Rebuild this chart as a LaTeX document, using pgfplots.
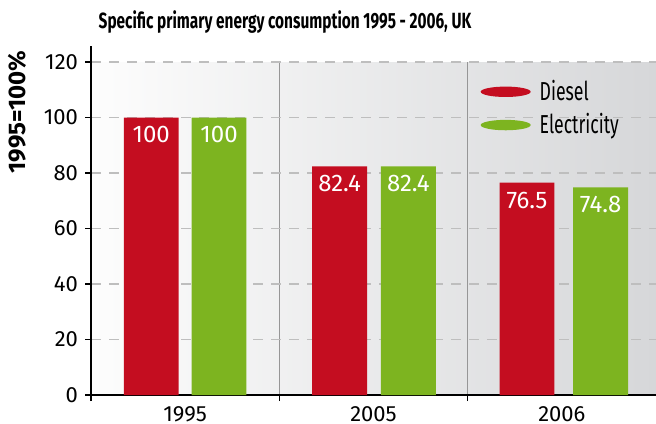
\documentclass[border=0pt]{standalone}
\usepackage{fontspec}
\setmainfont{Fira Sans}
\newfontfamily\condfont{Fira Sans}[FakeStretch=0.7]
\newfontfamily\legfont{Fira Sans}[FakeStretch=0.68]
\usepackage{pgfplots}
\pgfplotsset{compat=1.18}
\definecolor{dred}{RGB}{196,13,32}
\definecolor{egreen}{RGB}{125,180,32}
\definecolor{bgleft}{RGB}{253,253,253}
\definecolor{bgright}{RGB}{214,215,217}
\definecolor{gridgray}{RGB}{190,190,190}
\definecolor{sepgray}{RGB}{150,150,150}
\begin{document}
\begin{tikzpicture}
\begin{axis}[
  name=ax, set layers,
  scale only axis, width=282.5pt, height=174.25pt,
  xmin=0, xmax=3, ymin=0, ymax=125.6,
  axis lines=left, axis line style={-, line width=1pt, black},
  clip=false,
  ytick={0,20,...,120},
  xtick={0,1,2}, xticklabels={},
  extra x ticks={0.5,1.5,2.5}, extra x tick labels={1995,2005,2006},
  extra x tick style={tick style={draw=none}},
  xticklabel style={inner sep=0pt, yshift=-2.8pt},
  tick align=outside, major tick length=3pt,
  tick style={black, line width=0.8pt},
  ymajorgrids, grid style={gridgray, dash pattern=on 5pt off 4pt, line width=0.9pt},
  /pgf/number format/assume math mode=true,
  ticklabel style={font=\fontsize{11}{13}\selectfont},
  legend style={at={(axis cs:2.035,116.5)}, anchor=north west, draw=none, fill=none,
    font=\legfont\fontsize{13}{15}\selectfont, row sep=1pt},
  legend cell align=left,
]
\begin{pgfonlayer}{axis background}
  \fill[left color=bgleft, right color=bgright] (axis cs:0,0) rectangle (axis cs:3,120);
  \draw[sepgray, line width=0.5pt] (axis cs:1,0) -- (axis cs:1,120);
  \draw[sepgray, line width=0.5pt] (axis cs:2,0) -- (axis cs:2,120);
\end{pgfonlayer}
\addplot[ybar, bar width=0.291, bar shift=0pt, fill=dred, draw=none,
  nodes near coords, point meta=explicit symbolic,
  every node near coord/.append style={anchor=north, text=white, yshift=-1pt, font=\fontsize{12}{14}\selectfont},
  legend image code/.code={\fill[dred] (12.5pt,0pt) ellipse [x radius=12.5pt, y radius=2.6pt]; \path (27.5pt,0pt);}]
  coordinates {(0.32,100)[100] (1.32,82.4)[82.4] (2.315,76.5)[76.5]};
\addlegendentry{Diesel}
\addplot[ybar, bar width=0.291, bar shift=0pt, fill=egreen, draw=none,
  nodes near coords, point meta=explicit symbolic,
  every node near coord/.append style={anchor=north, text=white, yshift=-1pt, font=\fontsize{12}{14}\selectfont},
  legend image code/.code={\fill[egreen] (12.5pt,0pt) ellipse [x radius=12.5pt, y radius=2.6pt]; \path (27.5pt,0pt);}]
  coordinates {(0.68,100)[100] (1.685,82.4)[82.4] (2.706,74.8)[74.8]};
\addlegendentry{Electricity}
\node[rotate=90, font=\bfseries\fontsize{12}{14}\selectfont] at ([xshift=-37pt]axis cs:0,102) {1995=100\%};
\end{axis}
\node[anchor=base, font=\condfont\bfseries\fontsize{11}{13}\selectfont] at ([xshift=97pt, yshift=8.75pt]ax.north west) {Specific primary energy consumption 1995 - 2006, UK};
\pgfresetboundingbox
\path ([xshift=-45.5pt, yshift=-14pt]ax.south west) rectangle ([yshift=23.25pt]ax.north east);
\end{tikzpicture}
\end{document}
